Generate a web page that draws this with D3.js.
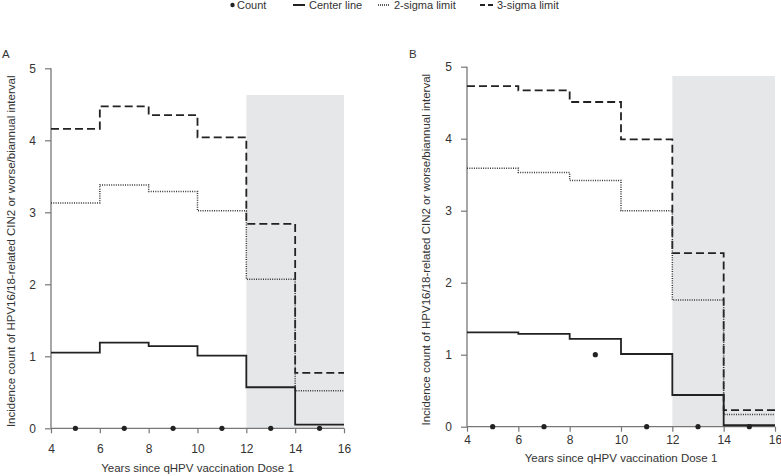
<!DOCTYPE html>
<html><head><meta charset="utf-8">
<script src="https://cdn.jsdelivr.net/npm/d3@7"></script>
<style>body{margin:0;background:#fff}svg{display:block}text{font-family:"Liberation Sans",Arial,sans-serif;fill:#333}</style>
</head><body>
<script>
// Data
const stepStarts = [4, 6, 8, 10, 12, 14];
const stepEnd = 16;
const countYears = [5, 7, 9, 11, 13, 15];
const xTicks = [4, 6, 8, 10, 12, 14, 16];
const yTicks = [0, 1, 2, 3, 4, 5];

const centerA = [1.05, 1.19, 1.14, 1.01, 0.57, 0.05];
const sigma2A = [3.13, 3.38, 3.29, 3.02, 2.07, 0.52];
const sigma3A = [4.16, 4.47, 4.35, 4.04, 2.84, 0.77];
const countA  = [0, 0, 0, 0, 0, 0];
const shadeA  = [12, 16, 4.63];

const centerB = [1.31, 1.29, 1.22, 1.01, 0.44, 0.02];
const sigma2B = [3.59, 3.53, 3.42, 3.00, 1.76, 0.17];
const sigma3B = [4.73, 4.67, 4.51, 3.99, 2.41, 0.23];
const countB  = [0, 0, 1, 0, 0, 0];
const shadeB  = [12, 16, 4.87];

const legendItems = ["Count", "Center line", "2-sigma limit", "3-sigma limit"];
const yTitle = "Incidence count of HPV16/18-related CIN2 or worse/biannual interval";
const xTitle = "Years since qHPV vaccination Dose 1";

const W = 781, H = 476;
const svg = d3.select("body").append("svg").attr("width", W).attr("height", H);

// Legend
const lg = svg.append("g");
lg.append("circle").attr("cx", 232.5).attr("cy", 5).attr("r", 2.2).attr("fill", "#222");
lg.append("text").attr("x", 237).attr("y", 9).attr("font-size", 11).text(legendItems[0]);
lg.append("line").attr("x1", 293).attr("x2", 305).attr("y1", 5).attr("y2", 5).attr("stroke", "#222").attr("stroke-width", 2);
lg.append("text").attr("x", 309).attr("y", 9).attr("font-size", 11).text(legendItems[1]);
lg.append("line").attr("x1", 378).attr("x2", 390).attr("y1", 5).attr("y2", 5).attr("stroke", "#222").attr("stroke-width", 1.3).attr("stroke-dasharray", "1,1");
lg.append("text").attr("x", 394).attr("y", 9).attr("font-size", 11).text(legendItems[2]);
lg.append("line").attr("x1", 480).attr("x2", 493).attr("y1", 5).attr("y2", 5).attr("stroke", "#222").attr("stroke-width", 2).attr("stroke-dasharray", "5,3");
lg.append("text").attr("x", 497).attr("y", 9).attr("font-size", 11).text(legendItems[3]);

function panel(cfg) {
  const x = d3.scaleLinear().domain([4, 16]).range([cfg.x0, cfg.x1]);
  const y = d3.scaleLinear().domain([0, 5]).range([cfg.y0, cfg.y5]);
  const g = svg.append("g");

  // shading
  g.append("rect")
    .attr("x", x(cfg.shade[0])).attr("width", x(cfg.shade[1]) - x(cfg.shade[0]))
    .attr("y", y(cfg.shade[2])).attr("height", y(0) - y(cfg.shade[2]))
    .attr("fill", "#e6e7e8");

  // axes
  const ax = g.append("g").attr("transform", `translate(0,${y(0)})`)
    .call(d3.axisBottom(x).tickValues(xTicks).tickFormat(d3.format("d")).tickSize(5).tickPadding(cfg.xPad));
  const ay = g.append("g").attr("transform", `translate(${x(4)},0)`)
    .call(d3.axisLeft(y).tickValues(yTicks).tickFormat(d3.format("d")).tickSize(6).tickPadding(9));
  [ax, ay].forEach(a => {
    a.select(".domain").attr("stroke", "#777").attr("stroke-width", 1.3);
    a.selectAll(".tick line").attr("stroke", "#777").attr("stroke-width", 1.2);
    a.selectAll(".tick text").attr("font-size", 12).attr("fill", "#333")
      .style("font-family", '"Liberation Sans",Arial,sans-serif');
  });
  ax.select(".domain").attr("d", `M${x(4)},0H${x(16)}`);
  ay.select(".domain").attr("d", `M0,${y(5)}V${y(0)}`);

  // step lines
  const stepPts = vals => {
    const pts = [];
    vals.forEach((v, i) => {
      pts.push([stepStarts[i], v]);
      pts.push([i + 1 < stepStarts.length ? stepStarts[i + 1] : stepEnd, v]);
    });
    return pts;
  };
  const line = d3.line().x(d => x(d[0])).y(d => y(d[1]));
  g.append("path").attr("d", line(stepPts(cfg.s3))).attr("fill", "none")
    .attr("stroke", "#222").attr("stroke-width", 1.8).attr("stroke-dasharray", "8,4");
  g.append("path").attr("d", line(stepPts(cfg.s2))).attr("fill", "none")
    .attr("stroke", "#333").attr("stroke-width", 1.5).attr("stroke-dasharray", "1,1.3");
  g.append("path").attr("d", line(stepPts(cfg.c))).attr("fill", "none")
    .attr("stroke", "#222").attr("stroke-width", 1.8);

  // counts
  g.selectAll("circle.cnt").data(cfg.n).join("circle").attr("class", "cnt")
    .attr("cx", (d, i) => x(countYears[i])).attr("cy", d => y(d))
    .attr("r", 2.6).attr("fill", "#222");

  // titles
  g.append("text").attr("x", cfg.labelX).attr("y", 58).attr("font-size", 11.5).text(cfg.label);
  g.append("text").attr("x", (x(4) + x(16)) / 2).attr("y", cfg.xTitleY)
    .attr("text-anchor", "middle").attr("font-size", 11.5).text(xTitle);
  g.append("text")
    .attr("transform", `translate(${cfg.yTitleX},${(y(0) + y(5)) / 2 + 3}) rotate(-90)`)
    .attr("text-anchor", "middle").attr("font-size", 11.5).text(yTitle);
}

panel({x0: 51, x1: 344, y0: 428.3, y5: 68.3, shade: shadeA, c: centerA, s2: sigma2A, s3: sigma3A, n: countA,
       label: "A", labelX: 2, xTitleY: 472, yTitleX: 15, xPad: 11});
panel({x0: 467, x1: 775, y0: 426.7, y5: 66.7, shade: shadeB, c: centerB, s2: sigma2B, s3: sigma3B, n: countB,
       label: "B", labelX: 409, xTitleY: 462, yTitleX: 430, xPad: 4});
</script>
</body></html>
